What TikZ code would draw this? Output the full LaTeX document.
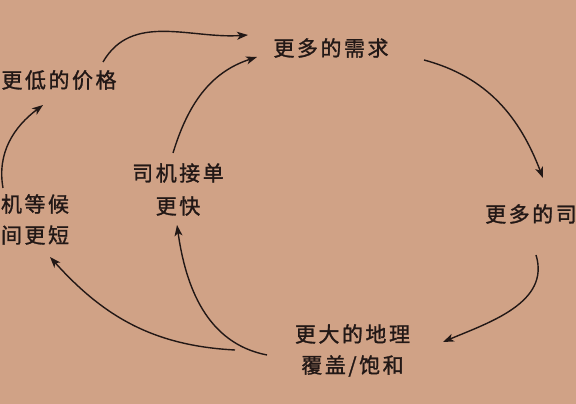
\documentclass[tikz,border=0pt]{standalone}
\usepackage{fontspec}
\newfontfamily\cjk[LetterSpace=12, FakeBold=1.3]{Noto Sans CJK SC}
\usetikzlibrary{arrows.meta}
\definecolor{paper}{RGB}{208,162,134}
\definecolor{inkc}{RGB}{34,24,22}
\begin{document}
\begin{tikzpicture}[x=1pt,y=1pt,
  lbl/.style={inner sep=0pt, outer sep=0pt, text=inkc, align=center, font=\cjk\fontsize{21}{31}\selectfont},
  link/.style={draw=inkc, line width=1.4pt, -{Stealth[length=11pt,width=8pt,inset=3pt]}}]
\fill[paper] (0,0) rectangle (576,404);
\useasboundingbox (0,0) rectangle (576,404);
\node[lbl] (demand)  at (331,356)   {更多的需求};
\node[lbl] (price)   at (59,324)    {更低的价格};
\node[lbl, font=\cjk\fontsize{21}{33}\selectfont] (fast) at (178,214.5) {司机接单\\更快};
\node[lbl] (wait)    at (35,184.5)  {机等候\\间更短};
\node[lbl] (drivers) at (531,190)   {更多的司};
\node[lbl] (cover)   at (352.5,53.5) {更大的地理\\覆盖/饱和};
\draw[link] ([shift={(44,18)}]price.center) to[out=60,in=184] ([shift={(-83,13)}]demand.center);
\draw[link] ([shift={(-5,36.5)}]fast.center) to[out=73,in=198] ([shift={(-74,-9)}]demand.center);
\draw[link] ([shift={(-32,31.5)}]wait.center) to[out=100,in=217] ([shift={(-16,-25)}]price.center);
\draw[link] ([shift={(93,-12)}]demand.center) to[out=-15,in=111] ([shift={(12,36)}]drivers.center);
\draw[link] ([shift={(5,-41)}]drivers.center) to[out=-73,in=23] ([shift={(90.5,8.5)}]cover.center);
\draw[link] ([shift={(-117.5,0.5)}]cover.center) to[out=177,in=-48] ([shift={(15,-37.5)}]wait.center);
\draw[link] ([shift={(-85.5,-4.5)}]cover.center) to[out=169,in=-82] ([shift={(-1,-35.5)}]fast.center);
\end{tikzpicture}
\end{document}
